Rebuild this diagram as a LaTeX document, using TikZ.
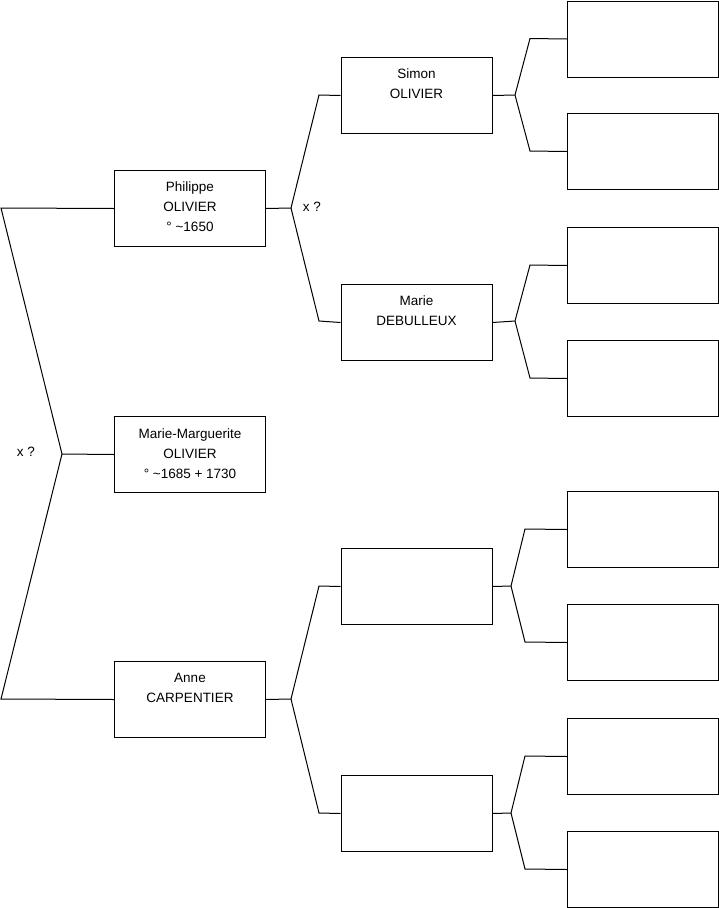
\documentclass[tikz,border=0pt]{standalone}
\usepackage{fontspec}
\setmainfont{Liberation Sans}
\usetikzlibrary{positioning,calc}

\begin{document}
\begin{tikzpicture}[
    x=1pt, y=-1pt,
    line width=1pt,
    pbox/.style={draw, rectangle, anchor=north west, minimum width=151pt, minimum height=76pt, inner sep=0pt},
    ptext/.style={anchor=base, align=center, inner sep=0pt, font=\fontsize{13.5}{20}\selectfont},
    marr/.style={inner sep=0pt, font=\fontsize{13.5}{15}\selectfont}
]
\useasboundingbox (0,0) rectangle (719,908);

% generation 1
\node[pbox] (phil) at (114,170) {};
\node[pbox] (mm) at (114,416) {};
\node[pbox] (anne) at (114,661) {};
% base = last line, so shift by first baseline + 20 per extra line
\node[ptext] (philtxt) at ([yshift=-61.5pt]phil.north) {Philippe\\OLIVIER\\° \textasciitilde1650};
\node[ptext] (mmtxt) at ([yshift=-62.5pt]mm.north) {Marie-Marguerite\\OLIVIER\\° \textasciitilde1685 + 1730};
\node[ptext] (annetxt) at ([yshift=-41pt]anne.north) {Anne\\CARPENTIER};

% generation 2
\node[pbox] (simon) at (340.5,57) {};
\node[pbox] (marie) at (340.5,284) {};
\node[pbox] (gpa) at (340.5,548) {};
\node[pbox] (gma) at (340.5,775) {};
\node[ptext] (simontxt) at ([yshift=-41pt]simon.north) {Simon\\OLIVIER};
\node[ptext] (marietxt) at ([yshift=-41pt]marie.north) {Marie\\DEBULLEUX};

% generation 3
\node[pbox] (s1) at (567,0.5) {};
\node[pbox] (s2) at (567,113) {};
\node[pbox] (d1) at (567,227) {};
\node[pbox] (d2) at (567,340) {};
\node[pbox] (c1) at (567,491) {};
\node[pbox] (c2) at (567,604) {};
\node[pbox] (c3) at (567,718) {};
\node[pbox] (c4) at (567,831) {};

% forks
\coordinate (f0) at (62,454);
\coordinate (f0a) at (1,208);
\coordinate (f0b) at (1,699);
\coordinate (f1) at (291,208);
\coordinate (f2) at (291,699);
\coordinate (fs) at (515,95);
\coordinate (fm) at (515,321);
\coordinate (fa) at (511,586);
\coordinate (fb) at (511,813);

\node[marr] (x0) at (26,452) {x ?};
\node[marr] (x1) at (312,207) {x ?};

\draw (phil.west) -- (f0a) -- (f0) -- (f0b) -- (anne.west);
\draw (f0) -- (mm.west);
\draw (phil.east) -- (f1);
\draw (f1) -- (319,95) -- (simon.west);
\draw (f1) -- (319,321) -- (marie.west);
\draw (anne.east) -- (f2);
\draw (f2) -- (319,586) -- (gpa.west);
\draw (f2) -- (319,813) -- (gma.west);
\draw (simon.east) -- (fs);
\draw (fs) -- (530,38.5) -- (s1.west);
\draw (fs) -- (530,151) -- (s2.west);
\draw (marie.east) -- (fm);
\draw (fm) -- (530,265) -- (d1.west);
\draw (fm) -- (530,378) -- (d2.west);
\draw (gpa.east) -- (fa);
\draw (fa) -- (525,529) -- (c1.west);
\draw (fa) -- (525,642) -- (c2.west);
\draw (gma.east) -- (fb);
\draw (fb) -- (525,756) -- (c3.west);
\draw (fb) -- (525,869) -- (c4.west);
\end{tikzpicture}
\end{document}
